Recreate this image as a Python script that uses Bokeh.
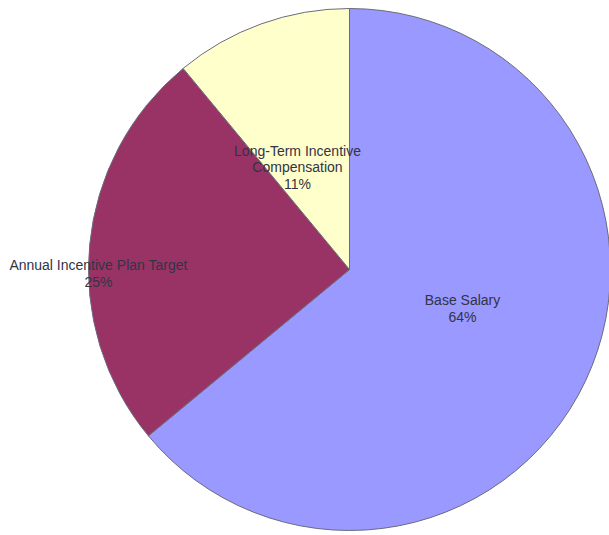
import math
from bokeh.plotting import figure
from bokeh.models import Range1d, ColumnDataSource
from bokeh.core.properties import value
from bokeh.embed import file_html
from bokeh.resources import INLINE

# Data
categories = ["Base Salary", "Annual Incentive Plan Target", "Long-Term Incentive\nCompensation"]
shares = [64, 25, 11]
colors = ["#9999FF", "#993366", "#FFFFCC"]

W, H = 609, 535
CX, CY, R = 349, 266, 261

# wedge angles: start at 12 o'clock, go clockwise
total = float(sum(shares))
starts, ends = [], []
cum = 0.0
for s in shares:
    a0 = math.pi / 2 - 2 * math.pi * (cum + s) / total
    a1 = math.pi / 2 - 2 * math.pi * cum / total
    starts.append(a0)
    ends.append(a1)
    cum += s

src = ColumnDataSource(dict(start=starts, end=ends, color=colors))

p = figure(width=W, height=H, output_backend="svg", toolbar_location=None,
           x_range=Range1d(0, W), y_range=Range1d(0, H),
           min_border=0, match_aspect=False)
p.axis.visible = False
p.grid.visible = False
p.outline_line_color = None
p.background_fill_color = "white"
p.border_fill_color = "white"

p.wedge(x=CX, y=CY, radius=R, start_angle="start", end_angle="end",
        fill_color="color", line_color="#6b6b7a", line_width=1, source=src)

# label placement (pixel offsets from centre)
label_dx = [113, -251, -52]
label_dy = [-39, -4, 102]
labels = [f"{c}\n{s}%" for c, s in zip(categories, shares)]
lsrc = ColumnDataSource(dict(x=[CX + d for d in label_dx], y=[CY + d for d in label_dy], t=labels))
p.text(x="x", y="y", text="t", source=lsrc, text_align="center", text_baseline="middle",
       text_font=value("Liberation Sans"), text_font_size="14px", text_color="#333344",
       text_line_height=1.05)

open("out.html", "w").write(file_html(p, INLINE))
